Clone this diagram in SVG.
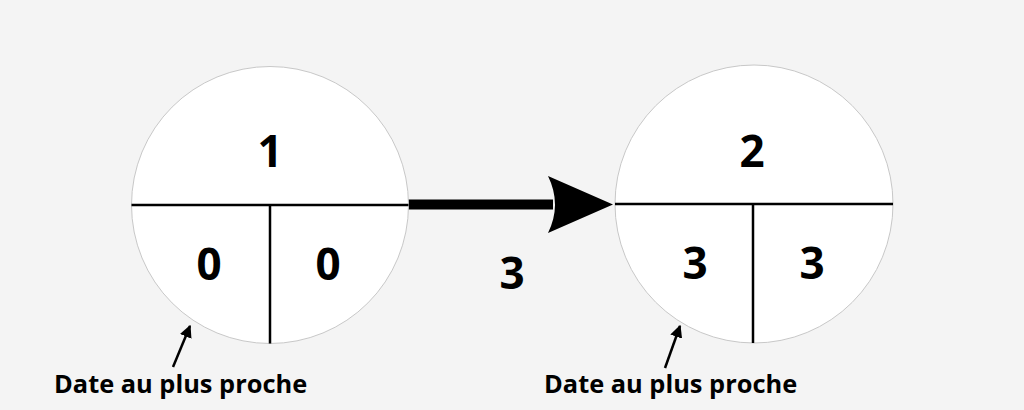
<svg xmlns="http://www.w3.org/2000/svg" width="1024" height="410" viewBox="0 0 1024 410">
<defs>
<style>
.circ{fill:#ffffff;stroke:#c8c8c8;stroke-width:1}
.div{stroke:#000;stroke-width:2.5;fill:none}
.num{font-family:"Open Sans","Liberation Sans",sans-serif;font-weight:bold;font-size:44px;fill:#000;text-anchor:middle}
.lbl{font-family:"Open Sans","Liberation Sans",sans-serif;font-weight:bold;font-size:25.4px;fill:#000}
.ptr{stroke:#000;stroke-width:2.5;fill:none}
</style>
<marker id="sm" viewBox="0 0 10 10" refX="9" refY="5" markerWidth="5" markerHeight="5" orient="auto" markerUnits="strokeWidth">
<path d="M0,0 L10,5 L0,10 z" fill="#000"/>
</marker>
</defs>
<rect width="1024" height="410" fill="#f4f4f4"/>
<g id="connectors">
<rect x="408" y="199.5" width="145" height="10" fill="#000"/>
<path d="M613,204.5 L548,176 Q562,204.5 548,233 Z" fill="#000"/>
<text class="num" x="512" y="289">3</text>
<line class="ptr" x1="173" y1="367" x2="190" y2="326" marker-end="url(#sm)"/>
<line class="ptr" x1="665" y1="368" x2="680" y2="326" marker-end="url(#sm)"/>
</g>
<g id="node1">
<circle class="circ" cx="270" cy="205" r="138.5"/>
<line class="div" x1="131.5" y1="205" x2="408.5" y2="205"/>
<line class="div" x1="270" y1="205" x2="270" y2="343.5"/>
<text class="num" x="270" y="167">1</text>
<text class="num" x="209" y="280">0</text>
<text class="num" x="328" y="280">0</text>
</g>
<g id="node2">
<circle class="circ" cx="754" cy="204" r="139"/>
<line class="div" x1="615" y1="204" x2="893" y2="204"/>
<line class="div" x1="753" y1="204" x2="753" y2="343"/>
<text class="num" x="752" y="167">2</text>
<text class="num" x="695" y="279">3</text>
<text class="num" x="812" y="279">3</text>
</g>
<g id="label1"><text class="lbl" x="54" y="393">Date au plus proche</text></g>
<g id="label2"><text class="lbl" x="544" y="393">Date au plus proche</text></g>
</svg>
